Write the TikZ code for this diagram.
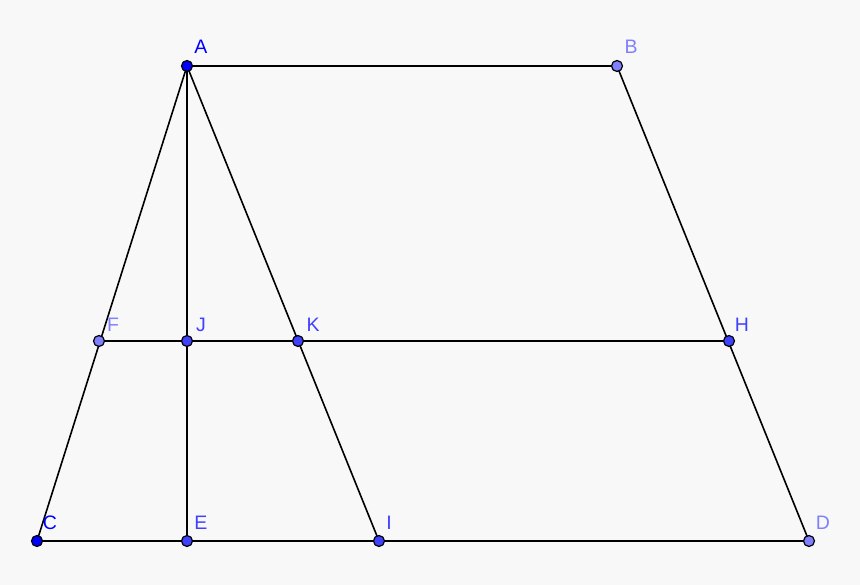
\documentclass[tikz,border=0pt]{standalone}
\usepackage{fontspec}
\setmainfont{Liberation Sans}
\begin{document}
\begin{tikzpicture}[x=1pt,y=-1pt,
  seg/.style={line width=1.6pt,black},
  ptA/.style={circle,draw=black,line width=1.2pt,fill=ptcolA,inner sep=0pt,minimum size=11pt},
  ptB/.style={circle,draw=black,line width=1.2pt,fill=ptcolB,inner sep=0pt,minimum size=11pt},
  ptC/.style={circle,draw=black,line width=1.2pt,fill=ptcolC,inner sep=0pt,minimum size=11pt},
  lab/.style={font=\fontsize{19.5}{19.5}\selectfont,inner sep=0pt,anchor=center}]
\definecolor{ptcolA}{RGB}{0,0,255}
\definecolor{ptcolB}{RGB}{64,64,255}
\definecolor{ptcolC}{RGB}{128,128,255}
\definecolor{bgc}{RGB}{248,248,248}
\fill[bgc] (0,0) rectangle (860,585);
\useasboundingbox (0,0) rectangle (860,585);
\coordinate (A) at (187,66);
\coordinate (B) at (617,66);
\coordinate (C) at (37,541);
\coordinate (D) at (809,541);
\coordinate (E) at (187,541);
\coordinate (I) at (379,541);
\coordinate (F) at (99,341);
\coordinate (J) at (187,341);
\coordinate (K) at (298,341);
\coordinate (H) at (729,341);
\draw[seg] (A) -- (B) -- (D) -- (C) -- cycle;
\draw[seg] (A) -- (E);
\draw[seg] (A) -- (I);
\draw[seg] (F) -- (H);
\node[ptA] (nA) at (A) {};
\node[ptC] (nB) at (B) {};
\node[ptA] (nC) at (C) {};
\node[ptC] (nD) at (D) {};
\node[ptB] (nE) at (E) {};
\node[ptB] (nI) at (I) {};
\node[ptC] (nF) at (F) {};
\node[ptB] (nJ) at (J) {};
\node[ptB] (nK) at (K) {};
\node[ptB] (nH) at (H) {};
\node[lab,text=ptcolA] (lA) at (201,47) {A};
\node[lab,text=ptcolC] (lB) at (631,47) {B};
\node[lab,text=ptcolA] (lC) at (50,523) {C};
\node[lab,text=ptcolC] (lD) at (823,523) {D};
\node[lab,text=ptcolB] (lE) at (201,523) {E};
\node[lab,text=ptcolB] (lI) at (389,523) {I};
\node[lab,text=ptcolC] (lF) at (113,325) {F};
\node[lab,text=ptcolB] (lJ) at (201,325) {J};
\node[lab,text=ptcolB] (lK) at (313,325) {K};
\node[lab,text=ptcolB] (lH) at (742,325) {H};
\end{tikzpicture}
\end{document}
